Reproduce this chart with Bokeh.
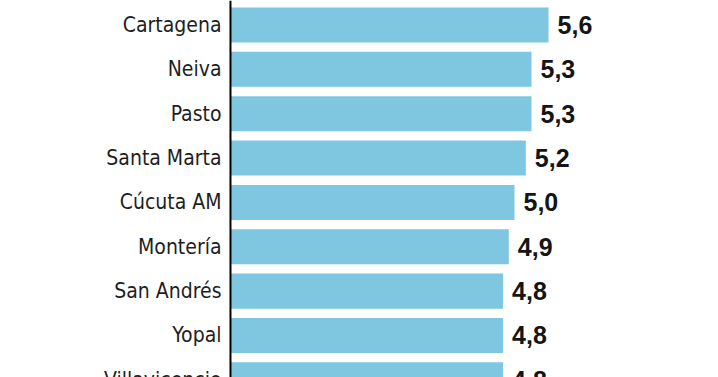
from bokeh.plotting import figure
from bokeh.models import Range1d, Span
from bokeh.core.properties import value
from bokeh.embed import file_html
from bokeh.resources import INLINE

cities = ["Cartagena", "Neiva", "Pasto", "Santa Marta", "Cúcuta AM",
          "Montería", "San Andrés", "Yopal", "Villavicencio"]
rates = [5.6, 5.3, 5.3, 5.2, 5.0, 4.9, 4.8, 4.8, 4.8]
labels = [f"{v:.1f}".replace(".", ",") for v in rates]

n = len(cities)
# category slots, top to bottom
ypos = [n - i - 0.5 for i in range(n)]

p = figure(width=718, height=377, output_backend="svg", toolbar_location=None,
           x_range=Range1d(-4.049, 8.592), y_range=Range1d(0.553, 9.052),
           min_border_left=0, min_border_right=0, min_border_top=0,
           min_border_bottom=0)
p.outline_line_color = None
p.grid.visible = False
p.axis.visible = False
p.background_fill_color = "white"
p.border_fill_color = "white"

p.hbar(y=ypos, right=rates, left=0, height=0.79, color="#7fc7e1", line_color=None)
p.add_layout(Span(location=0, dimension="height", line_color="#000000", line_width=2))

p.text(x=rates, y=ypos, text=labels, x_offset=9, text_baseline="middle",
       text_align="left", text_font=value("Liberation Sans"), text_font_style="bold",
       text_font_size="25px", text_color="#151515")
p.text(x=[0] * n, y=ypos, text=cities, x_offset=-9, text_baseline="middle",
       text_align="right", text_font=value("DejaVu Sans Condensed, Roboto"),
       text_font_size="21px", text_color="#1e1e1e")

open("out.html", "w").write(file_html(p, INLINE))
